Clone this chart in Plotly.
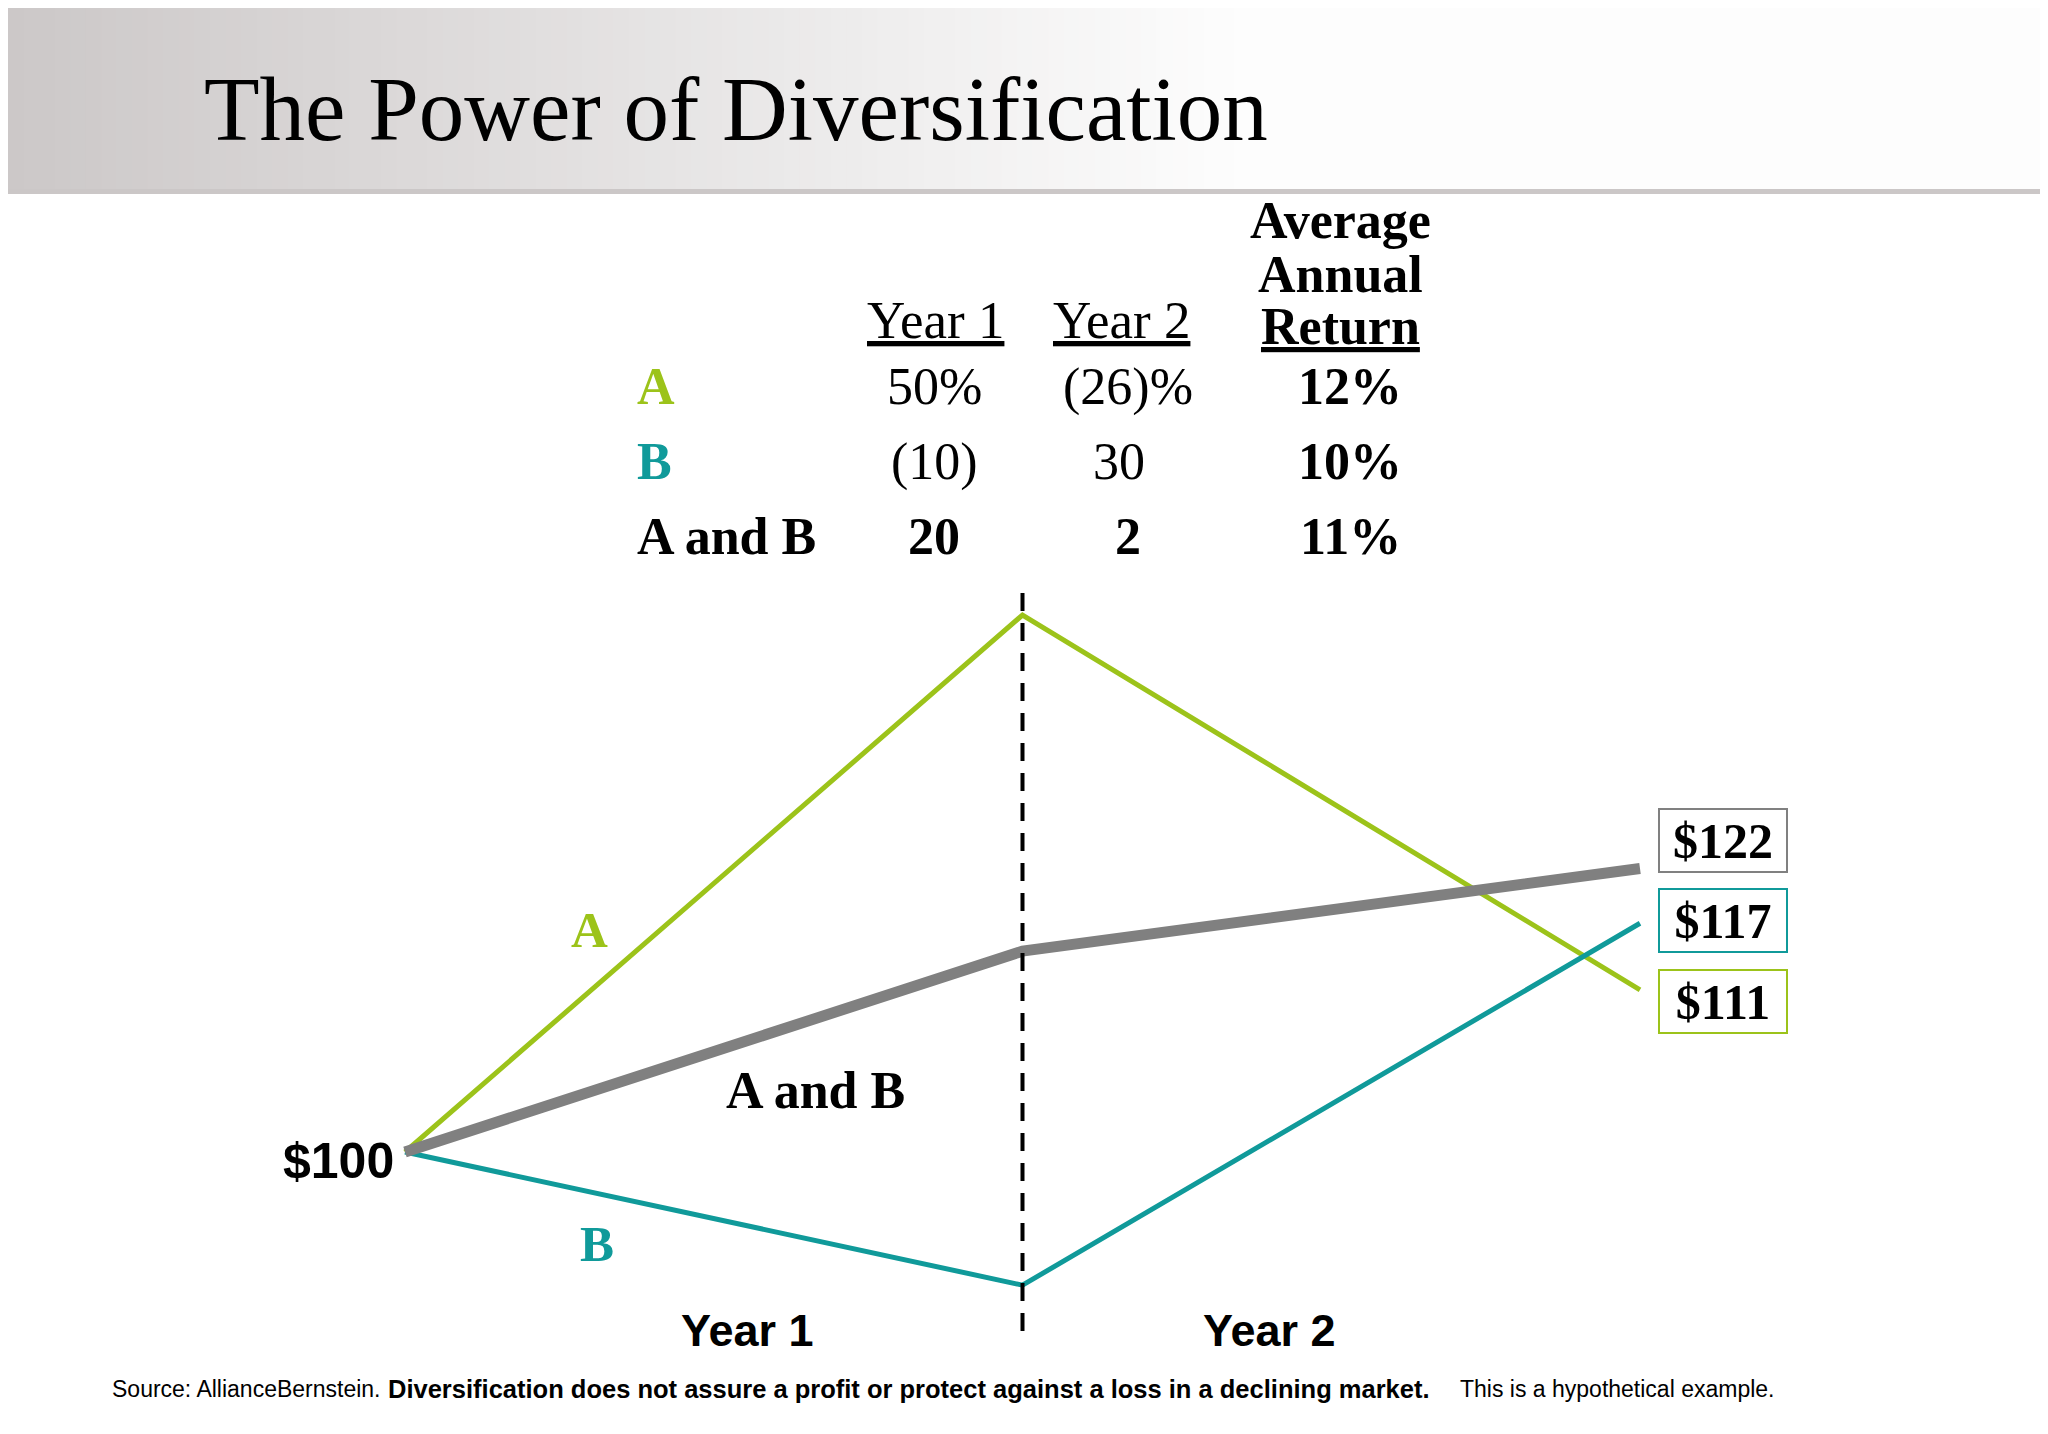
import plotly.graph_objects as go

# ---------------- data ----------------
periods = [0, 1, 2]                      # start, end of Year 1, end of Year 2
# heights as drawn in the (schematic, not-to-scale) diagram
a_drawn = [100, 150, 115.1]
b_drawn = [100, 87.6, 121.3]
ab_drawn = [100, 118.7, 126.4]

row_labels = ["A", "B", "A and B"]
year1_returns = ["50%", "(10)", "20"]
year2_returns = ["(26)%", "30", "2"]
avg_returns = ["12%", "10%", "11%"]
end_values = ["$122", "$117", "$111"]     # A and B, B, A
start_value = "$100"
period_labels = ["Year 1", "Year 2"]

title = "The Power of Diversification"
footer_src = "Source: AllianceBernstein."
footer_bold = "Diversification does not assure a profit or protect against a loss in a declining market."
footer_tail = "This is a hypothetical example."

# ---------------- styling ----------------
W, H = 2048, 1434          # page (window) size
OFF = 8                    # default page body margin
FW, FH = W - 2 * OFF, H - 2 * OFF
GREEN = "#9cc31a"
TEAL = "#109a9a"
GRAY = "#808080"
SERIF = "Liberation Serif, Times New Roman, serif"
SANS = "Liberation Sans, Arial, sans-serif"

def px(x):
    return (x - OFF) / FW

def py(y):
    return 1 - (y - OFF) / FH

# pixel anchors (page coordinates) for the axes
X0_PX, X2_PX = 405, 1640
Y100_PX, Y150_PX = 1152, 615
ppu_x = (X2_PX - X0_PX) / 2.0
ppu_y = (Y100_PX - Y150_PX) / 50.0
x_range = [-(X0_PX - OFF) / ppu_x, -(X0_PX - OFF) / ppu_x + FW / ppu_x]
y_range = [100 - (OFF + FH - Y100_PX) / ppu_y, 100 + (Y100_PX - OFF) / ppu_y]

fig = go.Figure()
fig.add_trace(go.Scatter(x=periods, y=a_drawn, mode="lines",
                         line=dict(color=GREEN, width=5), hoverinfo="skip"))
fig.add_trace(go.Scatter(x=periods, y=b_drawn, mode="lines",
                         line=dict(color=TEAL, width=5), hoverinfo="skip"))
fig.add_trace(go.Scatter(x=periods, y=ab_drawn, mode="lines",
                         line=dict(color=GRAY, width=11), hoverinfo="skip"))

shapes = []
# header gradient band
n = 80
grad_end = 1250
for i in range(n):
    x0 = OFF + (grad_end - OFF) * i / n
    x1 = OFF + (grad_end - OFF) * (i + 1) / n + 1
    t = i / (n - 1)
    r = int(round(204 + (253 - 204) * t))
    g = int(round(200 + (253 - 200) * t))
    shapes.append(dict(type="rect", xref="paper", yref="paper", layer="below",
                       x0=px(x0), x1=px(x1), y0=py(189), y1=1,
                       line=dict(width=0), fillcolor=f"rgb({r},{g},{g})"))
shapes.append(dict(type="rect", xref="paper", yref="paper", layer="below",
                   x0=px(grad_end), x1=1, y0=py(189), y1=1,
                   line=dict(width=0), fillcolor="rgb(253,253,253)"))
shapes.append(dict(type="rect", xref="paper", yref="paper", layer="below",
                   x0=0, x1=1, y0=py(194), y1=py(189),
                   line=dict(width=0), fillcolor="rgb(203,199,199)"))
# dashed divider between the years
shapes.append(dict(type="line", xref="x", yref="paper", x0=1, x1=1,
                   y0=py(593), y1=py(1341),
                   line=dict(color="black", width=4, dash="18px,12px")))

ann = []
def text(x, y, s, size, family=SERIF, color="black", xanchor="center", **kw):
    ann.append(dict(x=px(x), y=py(y), xref="paper", yref="paper", text=s,
                    showarrow=False, xanchor=xanchor, yanchor="middle",
                    font=dict(size=size, family=family, color=color), **kw))

# title
text(202, 109, title, 91, xanchor="left")

# table header
text(935, 320, "<u>Year 1</u>", 53)
text(1121, 320, "<u>Year 2</u>", 53)
text(1340, 221, "<b>Average</b>", 52)
text(1340, 274, "<b>Annual</b>", 52)
text(1340, 326, "<b><u>Return</u></b>", 52)

row_y = [387, 462, 536]
row_colors = [GREEN, TEAL, "black"]
for i in range(3):
    text(635, row_y[i], f"<b>{row_labels[i]}</b>", 52, color=row_colors[i], xanchor="left")
    bold = i == 2
    v1 = f"<b>{year1_returns[i]}</b>" if bold else year1_returns[i]
    v2 = f"<b>{year2_returns[i]}</b>" if bold else year2_returns[i]
    text(934, row_y[i], v1, 52)
    text(1128 if i != 1 else 1119, row_y[i], v2, 52)
    text(1350, row_y[i], f"<b>{avg_returns[i]}</b>", 52)

# line labels
text(589, 930, "<b>A</b>", 51, color=GREEN)
text(597, 1244, "<b>B</b>", 51, color=TEAL)
text(815, 1090, "<b>A and B</b>", 52)
text(396, 1161, f"<b>{start_value}</b>", 50, family=SANS, xanchor="right")

# end value boxes
box_y = [840, 920, 1001]
box_col = [GRAY, TEAL, GREEN]
for i in range(3):
    text(1723, box_y[i], f"<b>{end_values[i]}</b>", 50, width=126, height=61,
         bordercolor=box_col[i], borderwidth=2, borderpad=0, bgcolor="white",
         align="center", valign="middle")

# period labels
text(747, 1330, f"<b>{period_labels[0]}</b>", 45, family=SANS)
text(1269, 1330, f"<b>{period_labels[1]}</b>", 45, family=SANS)

# footer
text(110, 1389, footer_src, 23, family=SANS, xanchor="left")
text(386, 1389, "<b>" + footer_bold + "</b>", 25.5, family=SANS, xanchor="left")
text(1458, 1389, footer_tail, 23, family=SANS, xanchor="left")

fig.update_layout(
    width=FW, height=FH, autosize=False,
    margin=dict(l=0, r=0, t=0, b=0, pad=0),
    paper_bgcolor="white", plot_bgcolor="white",
    showlegend=False,
    xaxis=dict(range=x_range, visible=False, fixedrange=True),
    yaxis=dict(range=y_range, visible=False, fixedrange=True),
    shapes=shapes, annotations=ann,
)

fig.write_html("out.html")
